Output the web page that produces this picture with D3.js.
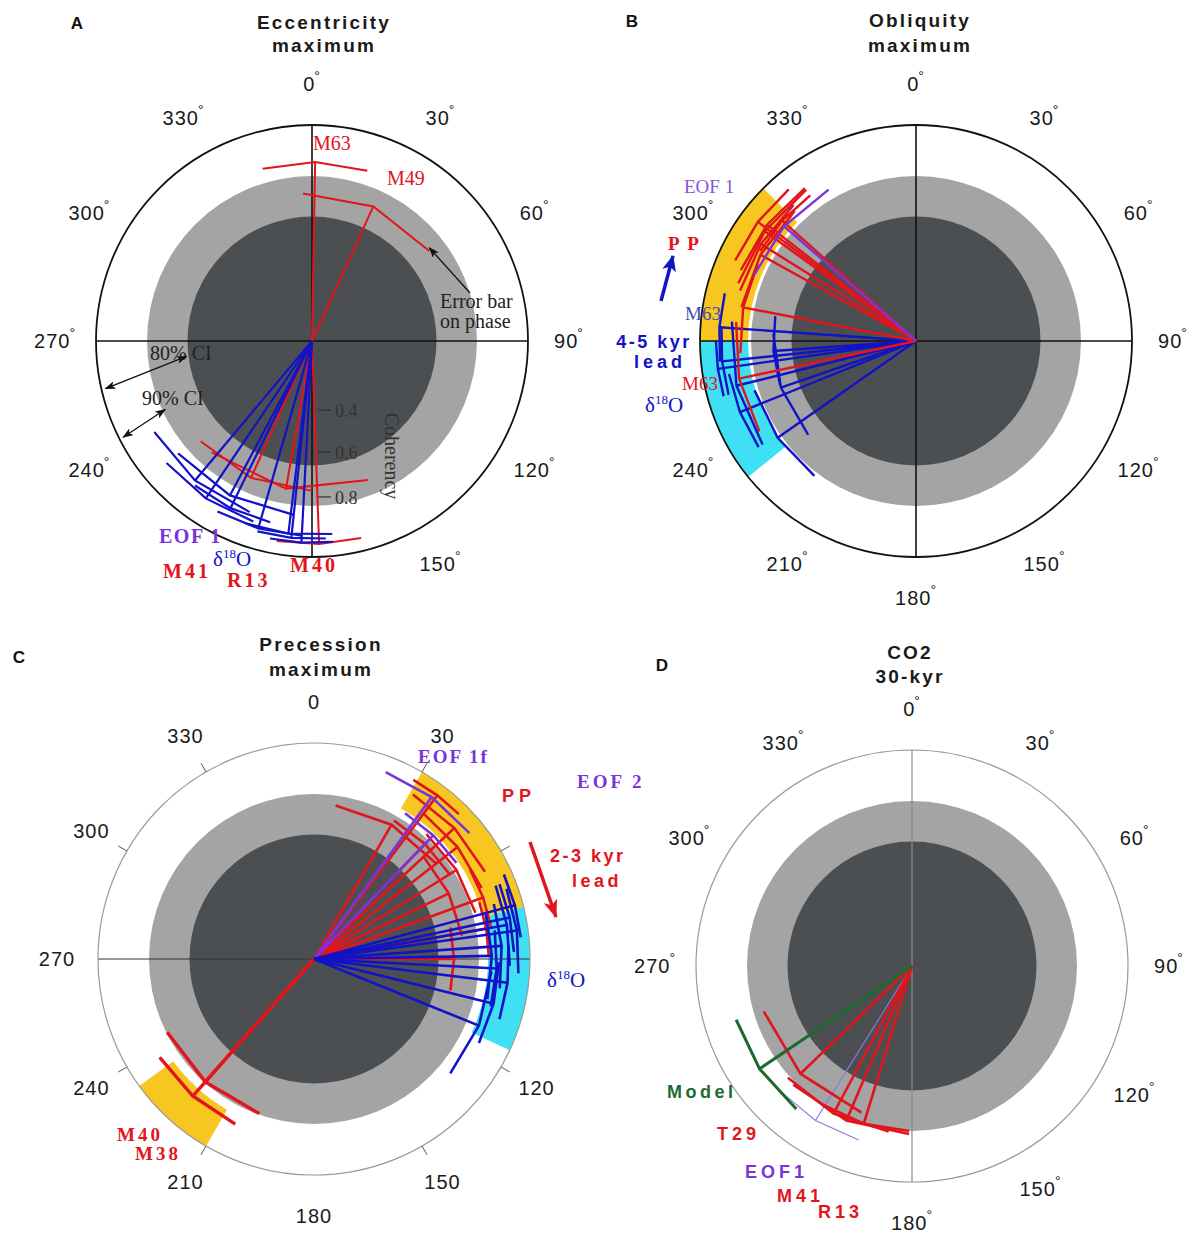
<!DOCTYPE html>
<html><head><meta charset="utf-8">
<script src="https://cdn.jsdelivr.net/npm/d3@7"></script>
<style>body{margin:0;background:#fff}svg{display:block}</style>
</head><body>
<svg id="chart" width="1202" height="1236"></svg>
<script>
// ---------------- data ----------------
const angleTicks = d3.range(0, 360, 30);
const coherencyTicks = [0.4, 0.6, 0.8];
const ci80 = 0.66;   // 80% confidence coherency level (dark disk)
const ci90 = 0.83;   // 90% confidence coherency level (light disk)

// A: Eccentricity maximum
const eccRed = [
  {name: "M63", phase: 1, coh: 0.877, err: 17},
  {name: "M49", phase: 24.5, coh: 0.764, err: 28},
  {name: "M41", phase: 204, coh: 0.773, err: 24},
  {name: "R13", phase: 190, coh: 0.773, err: 32},
  {name: "M40", phase: 178, coh: 0.957, err: 12}
];
const eccBlue = [
  {phase: 220, coh: 0.887, err: 20},
  {phase: 208, coh: 0.863, err: 22},
  {phase: 214, coh: 0.913, err: 16},
  {phase: 206, coh: 0.900, err: 13},
  {phase: 196, coh: 0.930, err: 13},
  {phase: 187, coh: 0.927, err: 13},
  {phase: 186, coh: 0.940, err: 10},
  {phase: 183, coh: 0.953, err: 9}
];

// B: Obliquity maximum
const oblRed = [
  {phase: 308, coh: 0.910, err: 16},
  {phase: 306, coh: 0.903, err: 18},
  {phase: 307, coh: 0.940, err: 13},
  {phase: 302, coh: 0.890, err: 16},
  {phase: 312, coh: 0.880, err: 12},
  {phase: 299, coh: 0.873, err: 18},
  {name: "M63", phase: 281, coh: 0.867, err: 15},
  {name: "M63", phase: 258, coh: 0.883, err: 18}
];
const oblPurple = [
  {name: "EOF 1", phase: 311, coh: 0.863, err: 19}
];
const oblBlue = [
  {phase: 274, coh: 0.937, err: 10},
  {phase: 264, coh: 0.930, err: 10},
  {phase: 256, coh: 0.897, err: 20},
  {phase: 266, coh: 0.742, err: 14},
  {phase: 251, coh: 0.742, err: 22},
  {phase: 248, coh: 0.913, err: 12},
  {phase: 235, coh: 0.843, err: 18},
  {phase: 262, coh: 0.947, err: 8}
];
const oblBands = [
  {from: 270, to: 315, inner: 0.84},
  {from: 231, to: 270, inner: 0.84}
];

// C: Precession maximum
const preRed = [
  {phase: 37, coh: 0.963, err: 8},
  {phase: 30, coh: 0.796, err: 22},
  {phase: 47, coh: 0.920, err: 16},
  {phase: 52, coh: 0.887, err: 15},
  {phase: 58, coh: 0.840, err: 16},
  {phase: 44, coh: 0.813, err: 14},
  {phase: 64, coh: 0.773, err: 17},
  {phase: 70, coh: 0.880, err: 10},
  {phase: 90, coh: 0.729, err: 13},
  {phase: 80, coh: 0.863, err: 9}
];
const prePurple = [
  {name: "EOF 1f", phase: 36, coh: 0.947, err: 15},
  {phase: 44, coh: 0.853, err: 12}
];
const preBlue = [
  {phase: 75, coh: 0.973, err: 9},
  {phase: 78, coh: 0.947, err: 10},
  {phase: 80, coh: 0.933, err: 12},
  {phase: 82, coh: 0.963, err: 12},
  {phase: 86, coh: 0.907, err: 13},
  {phase: 89, coh: 0.873, err: 14},
  {phase: 93, coh: 0.890, err: 12},
  {phase: 97, coh: 0.930, err: 11},
  {phase: 104, coh: 0.897, err: 13},
  {phase: 112, coh: 0.873, err: 18}
];
const preRedLow = [
  {name: "M40", phase: 221.5, coh: 0.827, err: 22},
  {name: "M38", phase: 221.5, coh: 0.890, err: 16}
];
const preBands = [
  {from: 30, to: 76, inner: 0.86},
  {from: 76, to: 115, inner: 0.86},
  {from: 210, to: 234, inner: 0.86}
];

// D: CO2 30-kyr
const co2Red = [
  {name: "T29", phase: 226, coh: 0.796, err: 27},
  {phase: 208, coh: 0.837, err: 20},
  {name: "M41", phase: 203, coh: 0.840, err: 22},
  {name: "R13", phase: 197, coh: 0.830, err: 16}
];
const co2Purple = [
  {name: "EOF1", phase: 212, coh: 0.887, err: 15}
];
const co2Green = [
  {name: "Model", phase: 236, coh: 0.893, err: 17}
];

// ---------------- style ----------------
const R = 216;
const DARK = "#4c4f52", LIGHT = "#a4a4a4";
const YELLOW = "#f8c620", CYAN = "#3fe0f3";
const RED = "#e2141c", BLUE = "#1212c6", PURPLE = "#7a35d8", GREEN = "#1c6a31";
const SANS = "'Liberation Sans', Arial, sans-serif";
const SERIF = "'Liberation Serif', 'Times New Roman', serif";

const svg = d3.select("#chart");
const rad = d3.scaleLinear().domain([0, 360]).range([0, 2 * Math.PI]);
const rScale = d3.scaleLinear().domain([0, 0.4, 0.6, 0.8, 1]).range([0, 0.32 * R, 0.514 * R, 0.722 * R, R]).clamp(true);
const pt = (a, r) => d3.pointRadial(rad(a), r);
const line = d3.line();

// markers
const defs = svg.append("defs");
function marker(id, color, w, h) {
  defs.append("marker").attr("id", id).attr("viewBox", `0 0 ${w} ${h}`)
    .attr("refX", w - 1).attr("refY", h / 2).attr("markerWidth", w).attr("markerHeight", h)
    .attr("markerUnits", "userSpaceOnUse").attr("orient", "auto-start-reverse")
    .append("path").attr("d", `M0,0L${w},${h / 2}L0,${h}L${w * 0.25},${h / 2}Z`).attr("fill", color);
}
marker("arrK", "#111", 11, 8);
marker("arrB", BLUE, 16, 14);
marker("arrR", RED, 18, 14);

function drawPanel(o) {
  const g = svg.append("g").attr("transform", `translate(${o.cx},${o.cy})`);
  g.append("circle").attr("r", rScale(ci90)).attr("fill", LIGHT);
  g.append("circle").attr("r", rScale(ci80)).attr("fill", DARK);
  (o.bands || []).forEach((b, i) => {
    g.append("path").attr("d", d3.arc()({innerRadius: rScale(b.inner), outerRadius: R,
      startAngle: rad(b.from), endAngle: rad(b.to)})).attr("fill", o.bandColors[i]);
  });
  if (o.axes.includes("h")) g.append("line").attr("x1", -R).attr("x2", R).attr("stroke", o.axisColor).attr("stroke-width", o.axisWidth);
  if (o.axes.includes("v")) g.append("line").attr("y1", -R).attr("y2", R).attr("stroke", o.axisColor).attr("stroke-width", o.axisWidth);
  g.append("circle").attr("r", R).attr("fill", "none").attr("stroke", o.ringColor).attr("stroke-width", o.ringWidth);
  if (o.ticks) {
    o.ticks.forEach(a => {
      const p1 = pt(a, R), p2 = pt(a, R + 10);
      g.append("line").attr("x1", p1[0]).attr("y1", p1[1]).attr("x2", p2[0]).attr("y2", p2[1])
        .attr("stroke", "#555").attr("stroke-width", 1);
    });
  }
  // series
  o.series.forEach(s => {
    const sg = g.append("g").attr("fill", "none").attr("stroke", s.color).attr("stroke-width", s.width)
      .attr("stroke-linejoin", "miter");
    sg.selectAll("path.rad").data(s.data).join("path").attr("class", "rad")
      .attr("d", d => line([[0, 0], pt(d.phase, rScale(d.coh))]));
    sg.selectAll("path.bar").data(s.data).join("path").attr("class", "bar")
      .attr("d", d => line([d.phase - d.err, d.phase, d.phase + d.err].map(a => pt(a, rScale(d.coh)))));
  });
  // angle labels
  angleTicks.filter(a => o.labelAngles.includes(a)).forEach(a => {
    const p = pt(a, R + 41);
    const t = g.append("text").attr("x", p[0]).attr("y", p[1]).attr("text-anchor", "middle")
      .attr("dominant-baseline", "central").attr("font-family", SANS).attr("font-size", 20)
      .attr("letter-spacing", 1).attr("fill", "#1a1a1a");
    t.append("tspan").text(a);
    if (o.degree) t.append("tspan").attr("font-size", 14).attr("dy", -8).attr("dx", -1).text("°");
  });
  // title
  o.title.forEach((s, i) => {
    g.append("text").attr("x", o.titleDx).attr("y", o.titleY[i]).attr("text-anchor", "middle")
      .attr("font-family", SANS).attr("font-weight", "bold").attr("font-size", 19)
      .attr("letter-spacing", 2.2).attr("fill", "#1a1a1a").text(s);
  });
  svg.append("text").attr("x", o.letter[1]).attr("y", o.letter[2]).attr("text-anchor", "middle")
    .attr("font-family", SANS).attr("font-weight", "bold").attr("font-size", 17).attr("fill", "#111").text(o.letter[0]);
  return g;
}

function label(g, txt, x, y, opt) {
  const t = g.append("text").attr("x", x).attr("y", y)
    .attr("font-family", opt.serif ? SERIF : SANS).attr("font-size", opt.size || 20)
    .attr("font-weight", opt.bold ? "bold" : "normal").attr("fill", opt.color)
    .attr("letter-spacing", opt.ls || 0).attr("text-anchor", opt.anchor || "start");
  t.text(txt);
  return t;
}
function delta(g, x, y, color, size) {
  const t = g.append("text").attr("x", x).attr("y", y).attr("font-family", SERIF)
    .attr("font-size", size).attr("fill", color);
  t.append("tspan").text("δ");
  t.append("tspan").attr("font-size", size * 0.62).attr("dy", -size * 0.36).text("18");
  t.append("tspan").attr("dy", size * 0.36).text("O");
}
function arrow(g, a, b, color, width, mid, both) {
  const l = g.append("line").attr("x1", a[0]).attr("y1", a[1]).attr("x2", b[0]).attr("y2", b[1])
    .attr("stroke", color).attr("stroke-width", width).attr("marker-end", `url(#${mid})`);
  if (both) l.attr("marker-start", `url(#${mid})`);
}

// ---------------- Panel A ----------------
const gA = drawPanel({
  cx: 312, cy: 341, axes: "hv", axisColor: "#111", axisWidth: 1.6, ringColor: "#111", ringWidth: 1.8,
  series: [{data: eccRed, color: RED, width: 2}, {data: eccBlue, color: BLUE, width: 2.2}],
  labelAngles: [0, 30, 60, 90, 120, 150, 240, 270, 300, 330], degree: true,
  title: ["Eccentricity", "maximum"], titleDx: 12, titleY: [-312, -289], letter: ["A", 77, 29]
});
coherencyTicks.forEach(c => {
  gA.append("line").attr("x1", 6).attr("x2", 19).attr("y1", rScale(c)).attr("y2", rScale(c))
    .attr("stroke", "#333").attr("stroke-width", 1.2);
  label(gA, c.toFixed(1), 23, rScale(c) + 7, {serif: true, size: 18, color: "#333"});
});
gA.append("text").attr("transform", "translate(80,115) rotate(90)").attr("text-anchor", "middle")
  .attr("dominant-baseline", "central").attr("font-family", SERIF).attr("font-size", 20)
  .attr("fill", "#333").text("Coherency");
label(gA, "M63", 1, -191, {serif: true, size: 20, color: RED});
label(gA, "M49", 75, -156, {serif: true, size: 20, color: RED});
label(gA, "Error bar", 128, -33, {serif: true, size: 20, color: "#222"});
label(gA, "on phase", 128, -13, {serif: true, size: 20, color: "#222"});
arrow(gA, [158, -48], pt(eccRed[1].phase + eccRed[1].err - 1, rScale(eccRed[1].coh) + 2), "#111", 1.3, "arrK");
label(gA, "80% CI", -162, 19, {serif: true, size: 20, color: "#222"});
label(gA, "90% CI", -170, 64, {serif: true, size: 20, color: "#222"});
arrow(gA, pt(257, R - 4), pt(263, rScale(ci80) + 2), "#111", 1.3, "arrK", true);
arrow(gA, pt(243, R - 4), pt(245, rScale(ci90) - 3), "#111", 1.3, "arrK", true);
label(gA, "EOF 1", -153, 202, {serif: true, bold: true, size: 20, color: PURPLE, ls: 1.5});
delta(gA, -99, 225, BLUE, 21);
label(gA, "M41", -149, 237, {serif: true, bold: true, size: 20, color: RED, ls: 3});
label(gA, "R13", -85, 246, {serif: true, bold: true, size: 20, color: RED, ls: 3});
label(gA, "M40", -22, 231, {serif: true, bold: true, size: 20, color: RED, ls: 3});

// ---------------- Panel B ----------------
const gB = drawPanel({
  cx: 916, cy: 341, axes: "hv", axisColor: "#111", axisWidth: 1.6, ringColor: "#111", ringWidth: 1.8,
  bands: oblBands, bandColors: [YELLOW, CYAN],
  series: [{data: oblBlue, color: BLUE, width: 2.4}, {data: oblRed, color: RED, width: 2.4},
           {data: oblPurple, color: PURPLE, width: 2.4}],
  labelAngles: [0, 30, 60, 90, 120, 150, 180, 210, 240, 300, 330], degree: true,
  title: ["Obliquity", "maximum"], titleDx: 4, titleY: [-314, -289], letter: ["B", 632, 27]
});
label(gB, "EOF 1", -232, -148, {serif: true, size: 19, color: "#8a55d6"});
label(gB, "P P", -248, -91, {serif: true, bold: true, size: 19, color: RED, ls: 2});
arrow(gB, [-255, -40], [-243, -85], BLUE, 3.5, "arrB");
label(gB, "M63", -231, -21, {serif: true, size: 19, color: "#4848b8"});
label(gB, "4-5 kyr", -262, 7, {bold: true, size: 18, color: BLUE, ls: 2.5, anchor: "middle"});
label(gB, "lead", -256, 27, {bold: true, size: 18, color: BLUE, ls: 4, anchor: "middle"});
label(gB, "M63", -234, 49, {serif: true, size: 19, color: RED});
delta(gB, -271, 71, BLUE, 21);

// ---------------- Panel C ----------------
const gC = drawPanel({
  cx: 314, cy: 959, axes: "h", axisColor: "#333", axisWidth: 1, ringColor: "#9a9a9a", ringWidth: 1.2,
  ticks: [30, 60, 120, 150, 210, 240, 300, 330],
  bands: preBands, bandColors: [YELLOW, CYAN, YELLOW],
  series: [{data: preRedLow, color: RED, width: 3.4}, {data: preRed, color: RED, width: 2.6},
           {data: prePurple, color: PURPLE, width: 2.6}, {data: preBlue, color: BLUE, width: 2.6}],
  labelAngles: [0, 30, 120, 150, 180, 210, 240, 270, 300, 330], degree: false,
  title: ["Precession", "maximum"], titleDx: 7, titleY: [-308, -283], letter: ["C", 19, 663]
});
label(gC, "EOF 1f", 104, -196, {serif: true, bold: true, size: 19, color: PURPLE, ls: 2});
label(gC, "EOF  2", 263, -171, {serif: true, bold: true, size: 19, color: PURPLE, ls: 3});
label(gC, "PP", 188, -157, {bold: true, size: 18, color: RED, ls: 5});
arrow(gC, [216, -117], [242, -42], RED, 3.5, "arrR");
label(gC, "2-3 kyr", 236, -97, {bold: true, size: 18, color: RED, ls: 2.5});
label(gC, "lead", 258, -72, {bold: true, size: 18, color: RED, ls: 3.5});
delta(gC, 233, 28, BLUE, 21);
label(gC, "M40", -197, 182, {serif: true, bold: true, size: 19, color: RED, ls: 3});
label(gC, "M38", -179, 201, {serif: true, bold: true, size: 19, color: RED, ls: 3});

// ---------------- Panel D ----------------
const gD = drawPanel({
  cx: 912, cy: 966, axes: "v", axisColor: "#8a8a8a", axisWidth: 1.2, ringColor: "#9a9a9a", ringWidth: 1.2,
  series: [{data: co2Purple, color: "#8d7ae0", width: 1.1}, {data: co2Red, color: RED, width: 2.6},
           {data: co2Green, color: GREEN, width: 3}],
  labelAngles: [0, 30, 60, 90, 120, 150, 180, 270, 300, 330], degree: true,
  title: ["CO2", "30-kyr"], titleDx: -2, titleY: [-307, -283], letter: ["D", 662, 671]
});
label(gD, "Model", -245, 132, {bold: true, size: 18, color: GREEN, ls: 3.5});
label(gD, "T29", -195, 174, {bold: true, size: 18, color: RED, ls: 4});
label(gD, "EOF1", -167, 212, {bold: true, size: 18, color: PURPLE, ls: 4});
label(gD, "M41", -135, 236, {bold: true, size: 18, color: RED, ls: 4});
label(gD, "R13", -94, 252, {bold: true, size: 18, color: RED, ls: 4});
</script>
</body></html>
